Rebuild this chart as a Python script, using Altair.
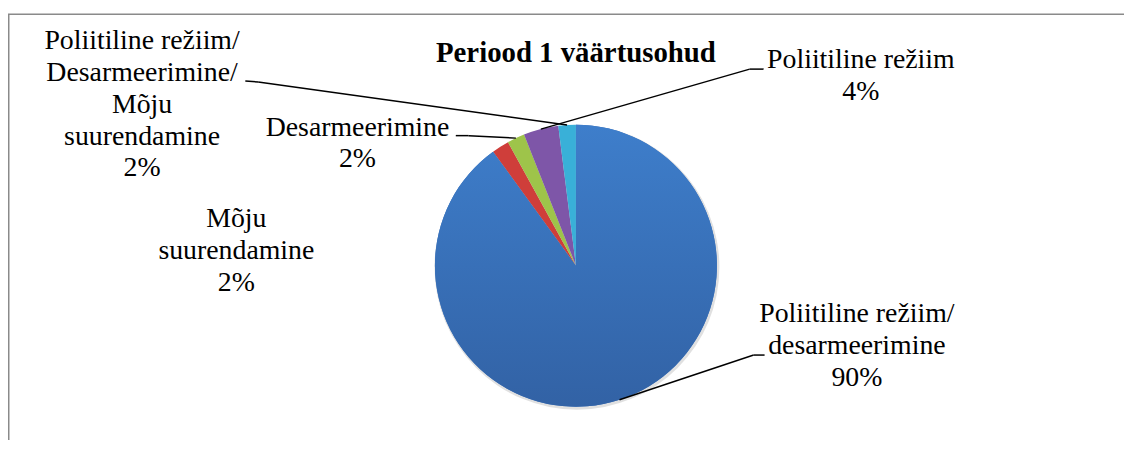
import math
import altair as alt
import pandas as pd

# ---- data ----
categories = [
    "Poliitiline režiim/desarmeerimine",
    "Mõju suurendamine",
    "Desarmeerimine",
    "Poliitiline režiim",
    "Poliitiline režiim/Desarmeerimine/Mõju suurendamine",
]
values = [90, 2, 2, 4, 2]
label_names = [
    "Poliitiline režiim/\ndesarmeerimine",
    "Mõju\nsuurendamine",
    "Desarmeerimine",
    "Poliitiline režiim",
    "Poliitiline režiim/\nDesarmeerimine/\nMõju\nsuurendamine",
]
colors = ["#3a73c0", "#cf3e3a", "#9ec44a", "#7e56a8", "#39b0d8"]
title_text = "Periood 1 väärtusohud"

# ---- layout (chart pixel coordinates) ----
W, H = 1124, 432
CX, CY, R = 572, 258, 142
label_x = [855, 230, 352, 859, 135]
label_y = [315, 219, 127, 59, 40]
# label-side points of the leader lines (None = no leader)
leader_start = [
    [(762, 348), (751, 348)],
    None,
    [(451, 127), (464, 127)],
    [(761, 60), (747, 60)],
    [(239, 72), (252, 73)],
]
FONT = "Liberation Serif"

df = pd.DataFrame({"cat": categories, "value": values, "idx": range(len(values))})

# text table
txt = pd.DataFrame({
    "label": [f"{n}\n{v}%" for n, v in zip(label_names, values)],
    "lx": label_x,
    "ly": label_y,
})

# leader segments, ending at each slice's mid-angle on the rim
total = sum(values)
segs = []
cum = 0
for i, v in enumerate(values):
    mid = (cum + v / 2) / total
    cum += v
    if leader_start[i] is None:
        continue
    ang = 2 * math.pi * mid
    ex, ey = CX + R * math.sin(ang), CY - R * math.cos(ang)
    pts = leader_start[i] + [(ex, ey)]
    for (x1, y1), (x2, y2) in zip(pts[:-1], pts[1:]):
        segs.append({"x": x1, "y": y1, "x2": x2, "y2": y2})
seg_df = pd.DataFrame(segs)

frame = alt.Chart(pd.DataFrame({"a": [0]})).mark_rect(
    fill="white", stroke="#8a8a8a", strokeWidth=1.5
).encode(x=alt.value(0.75), x2=alt.value(W + 50), y=alt.value(4.75), y2=alt.value(H + 60))

shadow = alt.Chart(pd.DataFrame({"a": [0]})).mark_arc(
    radius=R + 1.5, fill="#000000", opacity=0.12
).encode(theta=alt.value(0), theta2=alt.value(2 * math.pi),
         x=alt.value(CX + 1), y=alt.value(CY + 1.5))

base = alt.Chart(df).encode(
    theta=alt.Theta("value:Q", stack=True),
    order=alt.Order("idx:Q"),
    x=alt.value(CX),
    y=alt.value(CY),
)
pie = base.mark_arc(radius=R).encode(
    color=alt.Color("cat:N", scale=alt.Scale(domain=categories, range=colors), legend=None)
)
grad = base.mark_arc(
    radius=R,
    fill=alt.Gradient(
        gradient="linear",
        stops=[alt.GradientStop(color="#3e7ecb", offset=0),
               alt.GradientStop(color="#3262a5", offset=1)],
        x1=0, x2=0, y1=0, y2=1,
    ),
).encode(opacity=alt.condition(alt.datum.cat == categories[0], alt.value(1), alt.value(0)))

leaders = alt.Chart(seg_df).mark_rule(color="#000000", strokeWidth=1.5).encode(
    x=alt.X("x:Q", scale=None), y=alt.Y("y:Q", scale=None),
    x2="x2:Q", y2="y2:Q",
)

labels = alt.Chart(txt).mark_text(
    font=FONT, fontSize=28, lineBreak="\n", lineHeight=32,
    align="center", baseline="alphabetic", color="#000000",
).encode(x=alt.X("lx:Q", scale=None), y=alt.Y("ly:Q", scale=None), text="label:N")

title = alt.Chart(pd.DataFrame({"t": [title_text]})).mark_text(
    font=FONT, fontSize=29, fontWeight="bold", align="center", baseline="alphabetic", color="#000000"
).encode(x=alt.value(CX), y=alt.value(53), text="t:N")

chart = alt.layer(frame, shadow, pie, grad, leaders, labels, title).properties(
    width=W, height=H, padding=0, autosize=alt.AutoSizeParams(type="none")
).configure_view(stroke=None)

chart.save("out.html", embed_options={"renderer": "svg", "actions": False})
